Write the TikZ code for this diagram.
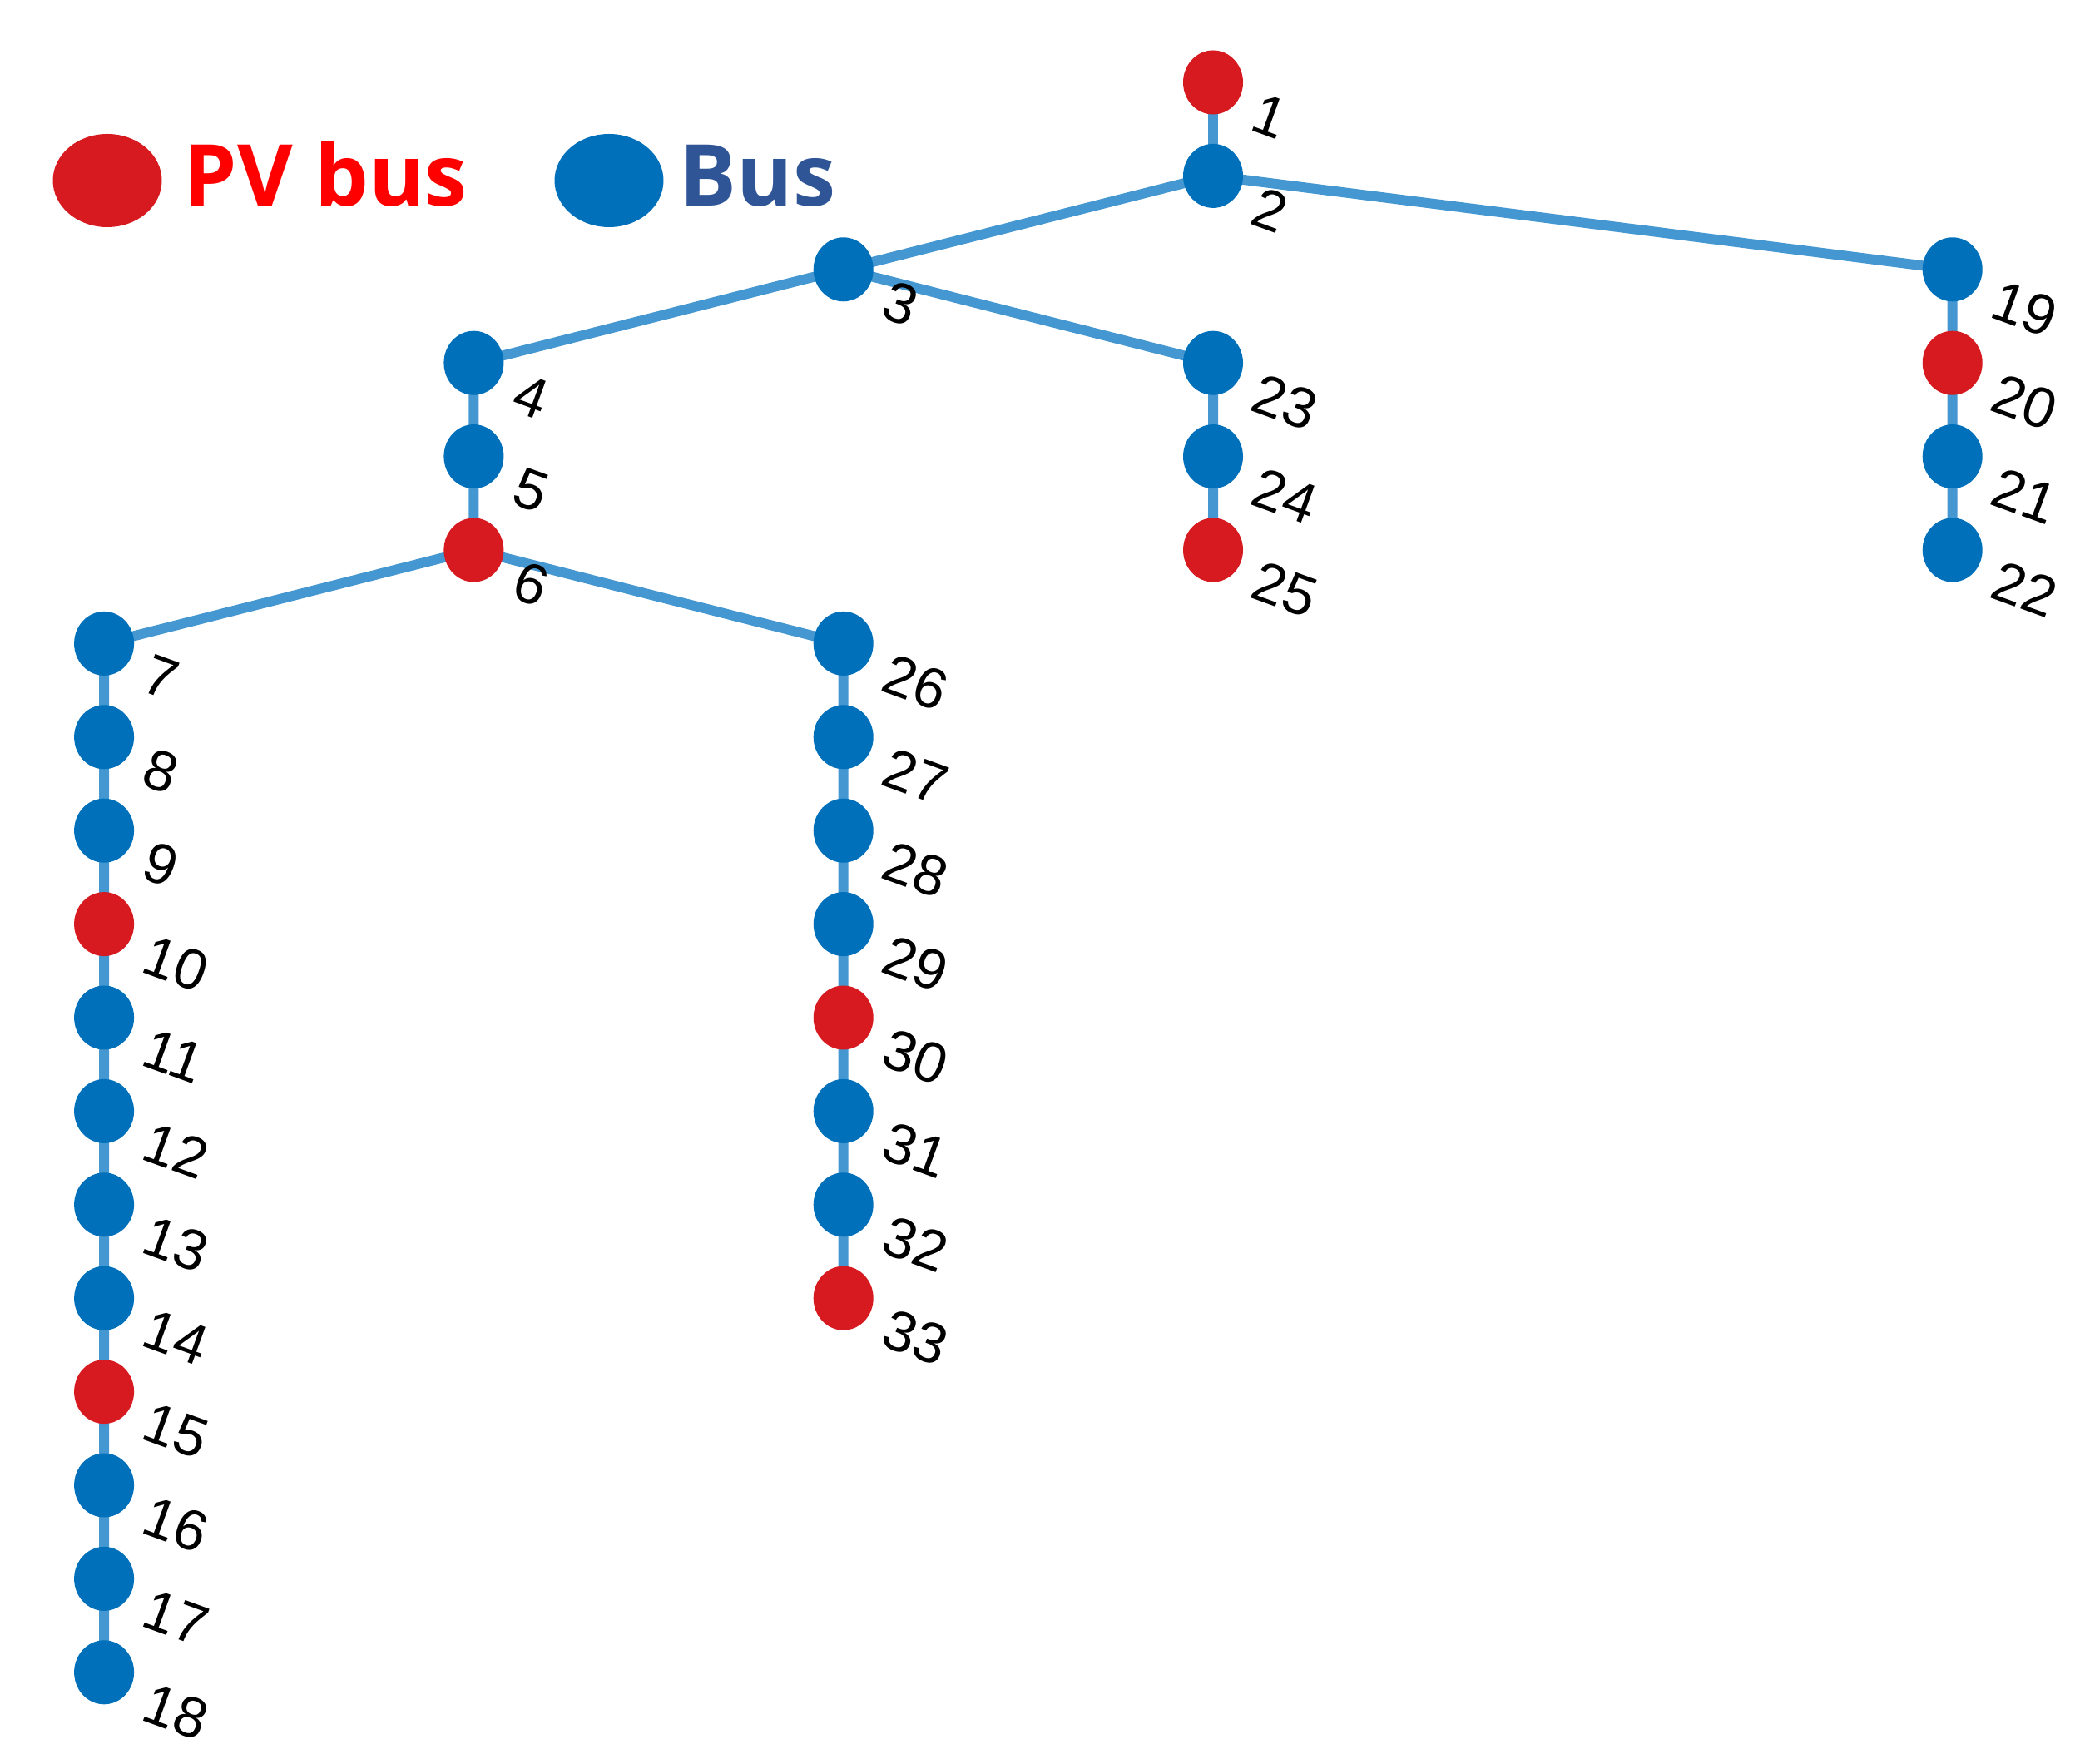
\documentclass[tikz,border=0pt]{standalone}
\usepackage{fontspec}
\usepackage{xcolor}
\usepackage{tikz}
\usetikzlibrary{shapes.geometric, positioning, backgrounds}
\setmainfont{Liberation Sans}
\newfontfamily\leyfont{Open Sans}
\definecolor{busazul}{HTML}{0070BA}
\definecolor{pvrojo}{HTML}{D71A20}
\definecolor{lineaazul}{HTML}{4497D0}
\definecolor{textoazul}{HTML}{2F5597}
\definecolor{textorojo}{HTML}{FF0000}
\tikzset{
  bus/.style={ellipse, fill=busazul, minimum width=0.72cm, minimum height=0.77cm, inner sep=0pt},
  pvbus/.style={bus, fill=pvrojo},
  linea/.style={draw=lineaazul, line width=0.12cm},
  num/.style={anchor=west, rotate=-20, inner sep=0pt, font=\fontsize{19.5}{19.5}\selectfont},
  leyenda/.style={anchor=base west, inner sep=0pt, font=\leyfont\bfseries\fontsize{29.2}{29.2}\selectfont}
}
\begin{document}
\begin{tikzpicture}[node distance=1.124cm]
      \useasboundingbox (0,0) rectangle (25.06,-21.20);
      % Leyenda
      \node[pvbus, minimum width=1.31cm, minimum height=1.12cm] (leypv) at (1.29,-2.17) {};
      \node[leyenda, text=textorojo] (txtpv) at (2.20,-2.48) {PV bus};
      \node[bus, minimum width=1.31cm, minimum height=1.12cm] (leybus) at (7.32,-2.17) {};
      \node[leyenda, text=textoazul] (txtbus) at (8.16,-2.48) {Bus};

      % Nodos principales
      \node[pvbus] (n1) at (14.58,-0.99) {};
      \node[bus, below of=n1] (n2) {};
      \node[bus, below of=n2, xshift=-4.443cm] (n3) {};
      \node[bus, below of=n2, xshift=8.887cm] (n19) {};
      \node[bus, below of=n3, xshift=-4.443cm] (n4) {};
      \node[bus, below of=n3, xshift=4.443cm] (n23) {};
      \node[bus, below of=n4] (n5) {};
      \node[pvbus, below of=n5] (n6) {};
      \node[bus, below of=n6, xshift=-4.443cm] (n7) {};
      \node[bus, below of=n6, xshift=4.443cm] (n26) {};

      % Rama 7-18
      \node[bus, below of=n7] (n8) {};
      \node[bus, below of=n8] (n9) {};
      \node[pvbus, below of=n9] (n10) {};
      \node[bus, below of=n10] (n11) {};
      \node[bus, below of=n11] (n12) {};
      \node[bus, below of=n12] (n13) {};
      \node[bus, below of=n13] (n14) {};
      \node[pvbus, below of=n14] (n15) {};
      \node[bus, below of=n15] (n16) {};
      \node[bus, below of=n16] (n17) {};
      \node[bus, below of=n17] (n18) {};

      % Rama 19-22
      \node[pvbus, below of=n19] (n20) {};
      \node[bus, below of=n20] (n21) {};
      \node[bus, below of=n21] (n22) {};

      % Rama 23-25
      \node[bus, below of=n23] (n24) {};
      \node[pvbus, below of=n24] (n25) {};

      % Rama 26-33
      \node[bus, below of=n26] (n27) {};
      \node[bus, below of=n27] (n28) {};
      \node[bus, below of=n28] (n29) {};
      \node[pvbus, below of=n29] (n30) {};
      \node[bus, below of=n30] (n31) {};
      \node[bus, below of=n31] (n32) {};
      \node[pvbus, below of=n32] (n33) {};

      % Numeros de los nodos
      \foreach \i in {1,...,33}
        \node[num] (l\i) at ([xshift=0.5cm, yshift=-0.34cm]n\i.center) {\i};

      % Lineas
      \begin{scope}[on background layer]
        \draw[linea] (n1.center) -- (n2.center);
        \draw[linea] (n2.center) -- (n3.center) -- (n4.center) -- (n5.center) -- (n6.center);
        \draw[linea] (n2.center) -- (n19.center) -- (n20.center) -- (n21.center) -- (n22.center);
        \draw[linea] (n3.center) -- (n23.center) -- (n24.center) -- (n25.center);
        \draw[linea] (n6.center) -- (n7.center) -- (n8.center) -- (n9.center) -- (n10.center)
          -- (n11.center) -- (n12.center) -- (n13.center) -- (n14.center) -- (n15.center)
          -- (n16.center) -- (n17.center) -- (n18.center);
        \draw[linea] (n6.center) -- (n26.center) -- (n27.center) -- (n28.center) -- (n29.center)
          -- (n30.center) -- (n31.center) -- (n32.center) -- (n33.center);
      \end{scope}
    \end{tikzpicture}
\end{document}
